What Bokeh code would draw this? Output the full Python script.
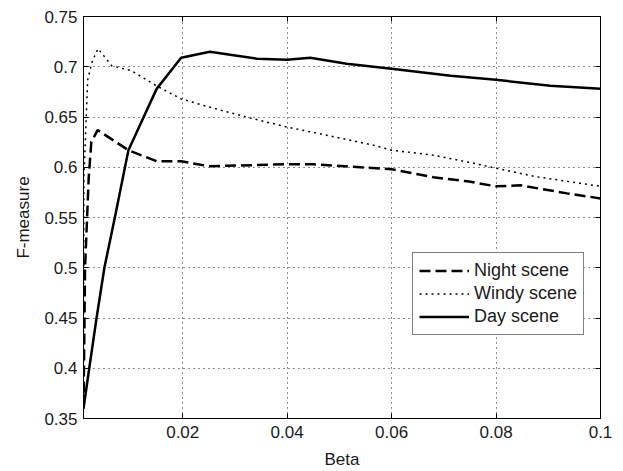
from bokeh.plotting import figure
from bokeh.models import LinearAxis, FixedTicker, Legend, LegendItem, Range1d
from bokeh.embed import file_html
from bokeh.resources import INLINE

# ---- data ----
night_beta = [0.001, 0.0013, 0.002, 0.0025, 0.0037, 0.0096, 0.015, 0.0197, 0.025,
              0.04, 0.045, 0.051, 0.06, 0.068, 0.0745, 0.08, 0.0847, 0.0936, 0.1]
night_f = [0.36, 0.50, 0.59, 0.625, 0.637, 0.617, 0.606, 0.606, 0.601,
           0.603, 0.603, 0.601, 0.598, 0.590, 0.586, 0.581, 0.582, 0.574, 0.569]

windy_beta = [0.001, 0.00108, 0.0018, 0.0027, 0.0038, 0.0064, 0.0102, 0.015, 0.0197,
              0.025, 0.0329, 0.04, 0.0502, 0.0565, 0.06, 0.068, 0.0757, 0.08, 0.0872, 0.1]
windy_f = [0.40, 0.59, 0.687, 0.706, 0.718, 0.701, 0.696, 0.681, 0.668,
           0.660, 0.649, 0.640, 0.629, 0.622, 0.617, 0.612, 0.604, 0.599, 0.591, 0.581]

day_beta = [0.001, 0.0021, 0.0035, 0.005, 0.007, 0.0096, 0.015, 0.0197, 0.0252,
            0.0304, 0.0342, 0.04, 0.0444, 0.0514, 0.06, 0.0713, 0.08, 0.0904, 0.1]
day_f = [0.36, 0.40, 0.45, 0.50, 0.55, 0.617, 0.678, 0.709, 0.715,
         0.711, 0.708, 0.707, 0.709, 0.703, 0.698, 0.691, 0.687, 0.681, 0.678]

x_ticks = [0.02, 0.04, 0.06, 0.08, 0.1]
x_tick_labels = ["0.02", "0.04", "0.06", "0.08", "0.1"]
y_ticks = [0.35, 0.4, 0.45, 0.5, 0.55, 0.6, 0.65, 0.7, 0.75]
y_tick_labels = ["0.35", "0.4", "0.45", "0.5", "0.55", "0.6", "0.65", "0.7", "0.75"]

FONT = "Liberation Sans"
FS = "17px"
TXT = "#1a1a1a"

p = figure(width=623, height=471, output_backend="svg", toolbar_location=None,
           x_range=Range1d(0.001, 0.1), y_range=Range1d(0.35, 0.75),
           min_border_left=83, min_border_right=23, min_border_top=16, min_border_bottom=51,
           x_axis_label="Beta", y_axis_label="F-measure")
p.background_fill_color = "white"
p.border_fill_color = "white"
p.outline_line_color = "black"
p.outline_line_width = 1

xt = FixedTicker(ticks=x_ticks)
yt = FixedTicker(ticks=y_ticks)

for ax, t, labs in ((p.xaxis[0], xt, dict(zip(x_ticks, x_tick_labels))),
                    (p.yaxis[0], yt, dict(zip(y_ticks, y_tick_labels)))):
    ax.ticker = t
    ax.major_label_overrides = labs
    ax.major_tick_in = 5
    ax.major_tick_out = 0
    ax.minor_tick_line_color = None
    ax.axis_line_color = "black"
    ax.major_tick_line_color = "black"
    ax.major_label_text_font = FONT
    ax.major_label_text_font_size = FS
    ax.major_label_text_color = TXT
    ax.axis_label_text_font = FONT
    ax.axis_label_text_font_size = FS
    ax.axis_label_text_font_style = "normal"
    ax.axis_label_text_color = TXT

p.xaxis[0].major_label_standoff = 7
p.xaxis[0].axis_label_standoff = 9
p.yaxis[0].major_label_standoff = 6
p.yaxis[0].axis_label_standoff = 8

# mirrored tick marks on the right and top edges (no labels)
for loc, t, ticks in (("right", yt, y_ticks), ("above", xt, x_ticks)):
    a = LinearAxis(ticker=t, major_tick_in=5, major_tick_out=0,
                   minor_tick_line_color=None,
                   major_label_overrides={v: "" for v in ticks},
                   major_label_standoff=0, axis_line_color="black",
                   major_tick_line_color="black")
    p.add_layout(a, loc)

p.xgrid.ticker = xt
p.ygrid.ticker = yt
for g in (p.xgrid[0], p.ygrid[0]):
    g.grid_line_color = "black"
    g.grid_line_dash = "1 4"
    g.grid_line_width = 1
    g.grid_line_alpha = 0.9

r_night = p.line(night_beta, night_f, line_color="black", line_width=2.5, line_dash="11 5")
r_windy = p.line(windy_beta, windy_f, line_color="black", line_width=1.5, line_dash="2 4")
r_day = p.line(day_beta, day_f, line_color="black", line_width=2.5)

legend = Legend(items=[LegendItem(label="Night scene", renderers=[r_night]),
                       LegendItem(label="Windy scene", renderers=[r_windy]),
                       LegendItem(label="Day scene", renderers=[r_day])],
                location=(329, 83))
legend.border_line_color = "black"
legend.border_line_width = 1
legend.background_fill_color = "white"
legend.background_fill_alpha = 1
legend.label_text_font = FONT
legend.label_text_font_size = "18px"
legend.label_text_color = TXT
legend.padding = 6
legend.spacing = 0
legend.margin = 0
legend.glyph_width = 50
legend.glyph_height = 23
legend.label_height = 23
legend.label_standoff = 5
p.add_layout(legend, "center")

open("out.html", "w").write(file_html(p, INLINE))
